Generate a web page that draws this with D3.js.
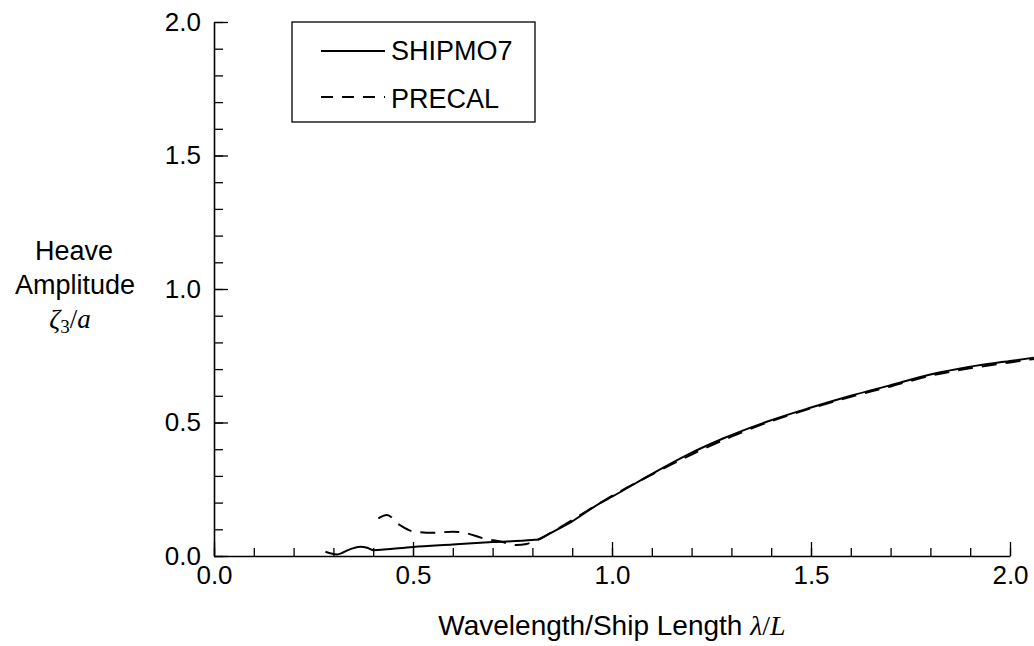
<!DOCTYPE html>
<html>
<head>
<meta charset="utf-8">
<script src="https://cdn.jsdelivr.net/npm/d3@7"></script>
<style>
  body { margin: 0; background: #fff; }
  svg { display: block; }
  .tick text { font-family: "Liberation Sans", Arial, sans-serif; }
</style>
</head>
<body>
<div id="vis"></div>
<script>
// Heave amplitude vs wavelength/ship length, two codes compared

// SHIPMO7 (solid)
const shipX = [0.28, 0.31, 0.34, 0.367, 0.385, 0.40, 0.5, 0.6, 0.7, 0.8, 0.814, 0.844, 0.9, 0.97, 1.0, 1.095, 1.188, 1.279, 1.389, 1.5, 1.6, 1.7, 1.8, 1.9, 2.0, 2.06];
const shipY = [0.016, 0.006, 0.024, 0.035, 0.031, 0.022, 0.034, 0.043, 0.052, 0.060, 0.062, 0.085, 0.13, 0.198, 0.222, 0.303, 0.378, 0.44, 0.503, 0.556, 0.600, 0.640, 0.680, 0.709, 0.730, 0.743];

// PRECAL (dashed)
const preX = [0.413, 0.434, 0.467, 0.5, 0.55, 0.6, 0.635, 0.677, 0.72, 0.76, 0.785, 0.81, 0.85, 0.9, 1.0, 1.1, 1.2, 1.3, 1.4, 1.5, 1.6, 1.7, 1.8, 1.9, 2.0, 2.06];
const preY = [0.141, 0.154, 0.116, 0.092, 0.087, 0.091, 0.085, 0.066, 0.054, 0.041, 0.045, 0.058, 0.090, 0.135, 0.225, 0.305, 0.380, 0.447, 0.505, 0.553, 0.596, 0.635, 0.675, 0.703, 0.725, 0.738];

const majorTicks = [0, 0.5, 1.0, 1.5, 2.0];
const minorTicks = d3.range(0, 21).map(i => i / 10);
const seriesNames = ["SHIPMO7", "PRECAL"];

const W = 1034, H = 646;
const x = d3.scaleLinear().domain([0, 2]).range([214, 1010]);
const y = d3.scaleLinear().domain([0, 2]).range([556, 22]);

const svg = d3.select("#vis").append("svg")
    .attr("width", W).attr("height", H);

// minor ticks
svg.append("g")
    .attr("transform", `translate(0,${y(0)})`)
    .call(d3.axisBottom(x).tickValues(minorTicks).tickSize(-8).tickSizeOuter(0).tickFormat(""))
    .call(g => g.select(".domain").remove());
svg.append("g")
    .attr("transform", `translate(${x(0)},0)`)
    .call(d3.axisLeft(y).tickValues(minorTicks).tickSize(-9).tickSizeOuter(0).tickFormat(""))
    .call(g => g.select(".domain").remove());

// major ticks + labels
const xAxis = svg.append("g")
    .attr("transform", `translate(0,${y(0)})`)
    .call(d3.axisBottom(x).tickValues(majorTicks).tickSize(-14).tickSizeOuter(0)
        .tickPadding(9).tickFormat(d3.format(".1f")));
const yAxis = svg.append("g")
    .attr("transform", `translate(${x(0)},0)`)
    .call(d3.axisLeft(y).tickValues(majorTicks).tickSize(-14).tickSizeOuter(0)
        .tickPadding(13).tickFormat(d3.format(".1f")));

[xAxis, yAxis].forEach(g => {
    g.selectAll("text").attr("font-size", 26).attr("fill", "#000");
    g.select(".domain").attr("stroke-width", 1.6);
});
xAxis.selectAll("text").attr("dy", "0.72em");
svg.selectAll(".tick line").attr("stroke-width", 1.3);

// curves
const line = d3.line()
    .x(d => x(d[0]))
    .y(d => y(d[1]))
    .curve(d3.curveMonotoneX);

const ship = shipX.map((v, i) => [v, shipY[i]]);
const pre = preX.map((v, i) => [v, preY[i]]);

svg.append("path")
    .datum(ship)
    .attr("d", line)
    .attr("fill", "none")
    .attr("stroke", "#000")
    .attr("stroke-width", 2);

svg.append("path")
    .datum(pre)
    .attr("d", line)
    .attr("fill", "none")
    .attr("stroke", "#000")
    .attr("stroke-width", 2)
    .attr("stroke-dasharray", "15,9");

// legend
const leg = svg.append("g");
leg.append("rect")
    .attr("x", 292).attr("y", 22)
    .attr("width", 243).attr("height", 100)
    .attr("fill", "#fff").attr("stroke", "#000").attr("stroke-width", 1.3);

seriesNames.forEach((name, i) => {
    const ly = 51 + i * 46;
    leg.append("line")
        .attr("x1", 321).attr("x2", 385)
        .attr("y1", ly).attr("y2", ly)
        .attr("stroke", "#000").attr("stroke-width", 1.8)
        .attr("stroke-dasharray", i === 1 ? "12,9" : null);
    leg.append("text")
        .attr("x", 391).attr("y", ly + 9 + i * 2)
        .attr("font-family", "Liberation Sans, Arial, sans-serif")
        .attr("font-size", 27)
        .text(name);
});

// axis titles
const xt = svg.append("text")
    .attr("x", 612).attr("y", 635)
    .attr("text-anchor", "middle")
    .attr("font-family", "Liberation Sans, Arial, sans-serif")
    .attr("font-size", 28);
xt.append("tspan").text("Wavelength/Ship Length ");
xt.append("tspan").attr("font-family", "Liberation Serif, serif").attr("font-style", "italic").text("λ");
xt.append("tspan").attr("font-family", "Liberation Serif, serif").text("/");
xt.append("tspan").attr("font-family", "Liberation Serif, serif").attr("font-style", "italic").text("L");

const yt = svg.append("g")
    .attr("font-family", "Liberation Sans, Arial, sans-serif")
    .attr("font-size", 27)
    .attr("text-anchor", "middle");
yt.append("text").attr("x", 74).attr("y", 260).text("Heave");
yt.append("text").attr("x", 75).attr("y", 294).text("Amplitude");
const z = yt.append("text").attr("x", 70).attr("y", 328)
    .attr("font-family", "Liberation Serif, serif");
z.append("tspan").attr("font-style", "italic").text("ζ");
z.append("tspan").attr("font-size", 19).attr("dy", 5).text("3");
z.append("tspan").attr("dy", -5).text("/");
z.append("tspan").attr("font-style", "italic").text("a");
</script>
</body>
</html>
